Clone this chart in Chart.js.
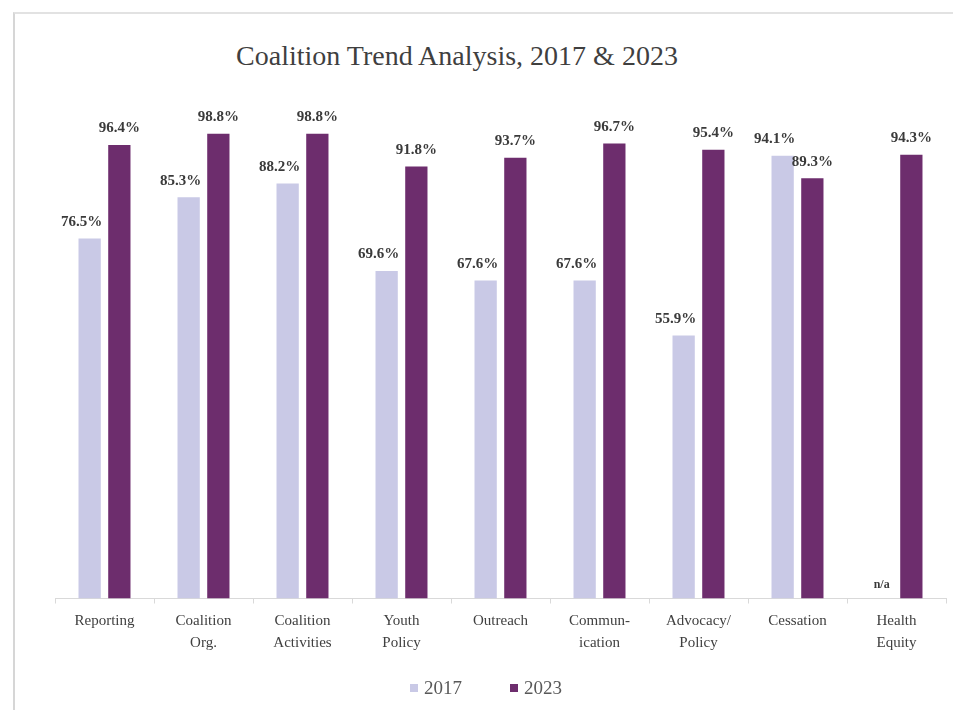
<!DOCTYPE html>
<html>
<head>
<meta charset="utf-8">
<script src="https://cdn.jsdelivr.net/npm/chart.js@4/dist/chart.umd.min.js"></script>
<style>
    html, body { margin: 0; padding: 0; background: #fff; }
    #frame {
        position: absolute; left: 13px; top: 12px; width: 940px; height: 700px;
        border-left: 2px solid #d6d6d6; border-top: 2px solid #e2e2e2;
        box-sizing: border-box;
    }
    #title {
        position: absolute; left: 0; top: 40px; width: 914px; text-align: center;
        font-family: "Liberation Serif", "DejaVu Serif", serif; font-size: 28px;
        color: #3f3f3f; white-space: nowrap;
    }
    #legend {
        position: absolute; left: 410px; top: 676px; height: 24px;
        font-family: "Liberation Serif", "DejaVu Serif", serif; font-size: 19px;
        color: #595959; white-space: nowrap; display: flex; gap: 48px;
    }
    #legend span.item { display: flex; align-items: center; }
    #legend span.box { width: 8px; height: 8px; margin-right: 6px; display: inline-block; }
    #wrap { position: absolute; left: 0; top: 0; width: 956px; height: 710px; }
</style>
</head>
<body>
<div id="frame"></div>
<div id="title">Coalition Trend Analysis, 2017 &amp; 2023</div>
<div id="wrap"><canvas id="trendChart"></canvas></div>
<div id="legend"></div>
<script>
    const categories = [
        "Reporting",
        ["Coalition", "Org."],
        ["Coalition", "Activities"],
        ["Youth", "Policy"],
        "Outreach",
        ["Commun-", "ication"],
        ["Advocacy/", "Policy"],
        "Cessation",
        ["Health", "Equity"]
    ];
    const values2017 = [76.5, 85.3, 88.2, 69.6, 67.6, 67.6, 55.9, 94.1, null];
    const values2023 = [96.4, 98.8, 98.8, 91.8, 93.7, 96.7, 95.4, 89.3, 94.3];

    const serif = "'Liberation Serif', 'DejaVu Serif', serif";

    // percent labels over the bars, "n/a" where there is no value
    const barLabels = {
        id: "barLabels",
        afterDatasetsDraw(chart) {
            const ctx = chart.ctx;
            const base = chart.scales.y.getPixelForValue(0);
            ctx.save();
            ctx.font = "bold 15px " + serif;
            ctx.fillStyle = "#3a3a3a";
            ctx.textAlign = "center";
            ctx.textBaseline = "bottom";
            chart.data.datasets.forEach((ds, i) => {
                const meta = chart.getDatasetMeta(i);
                const shift = i === 0 ? -8 : 0;
                meta.data.forEach((bar, j) => {
                    const v = ds.data[j];
                    if (v === null) {
                        ctx.font = "bold 12px " + serif;
                        ctx.fillText("n/a", bar.x, base - 8);
                        ctx.font = "bold 15px " + serif;
                    } else {
                        ctx.fillText(v.toFixed(1) + "%", bar.x + shift, bar.y - 9);
                    }
                });
            });
            ctx.restore();
        }
    };

    const ctx = document.getElementById("trendChart").getContext("2d");
    const trendChart = new Chart(ctx, {
        type: "bar",
        data: {
            labels: categories,
            datasets: [
                {
                    label: "2017",
                    data: values2017,
                    backgroundColor: "#c9c9e6",
                    categoryPercentage: 0.6,
                    barPercentage: 0.75
                },
                {
                    label: "2023",
                    data: values2023,
                    backgroundColor: "#6d2d6d",
                    categoryPercentage: 0.6,
                    barPercentage: 0.75
                }
            ]
        },
        options: {
            responsive: true,
            maintainAspectRatio: false,
            animation: false,
            layout: {
                padding: { left: 55, right: 10, top: 128, bottom: 49 }
            },
            scales: {
                x: {
                    grid: {
                        drawOnChartArea: false,
                        tickLength: 5,
                        color: "#d9d9d9"
                    },
                    border: { color: "#d9d9d9" },
                    ticks: {
                        autoSkip: false,
                        maxRotation: 0,
                        padding: 7,
                        color: "#404040",
                        font: { family: serif, size: 15, lineHeight: 1.45 }
                    }
                },
                y: {
                    display: false,
                    min: 0,
                    max: 100
                }
            },
            plugins: {
                tooltip: { enabled: false },
                legend: { display: false }
            }
        },
        plugins: [barLabels]
    });

    // legend from the datasets
    const legendEl = document.getElementById("legend");
    trendChart.data.datasets.forEach(ds => {
        const item = document.createElement("span");
        item.className = "item";
        const box = document.createElement("span");
        box.className = "box";
        box.style.background = ds.backgroundColor;
        item.appendChild(box);
        item.appendChild(document.createTextNode(ds.label));
        legendEl.appendChild(item);
    });
</script>
</body>
</html>
